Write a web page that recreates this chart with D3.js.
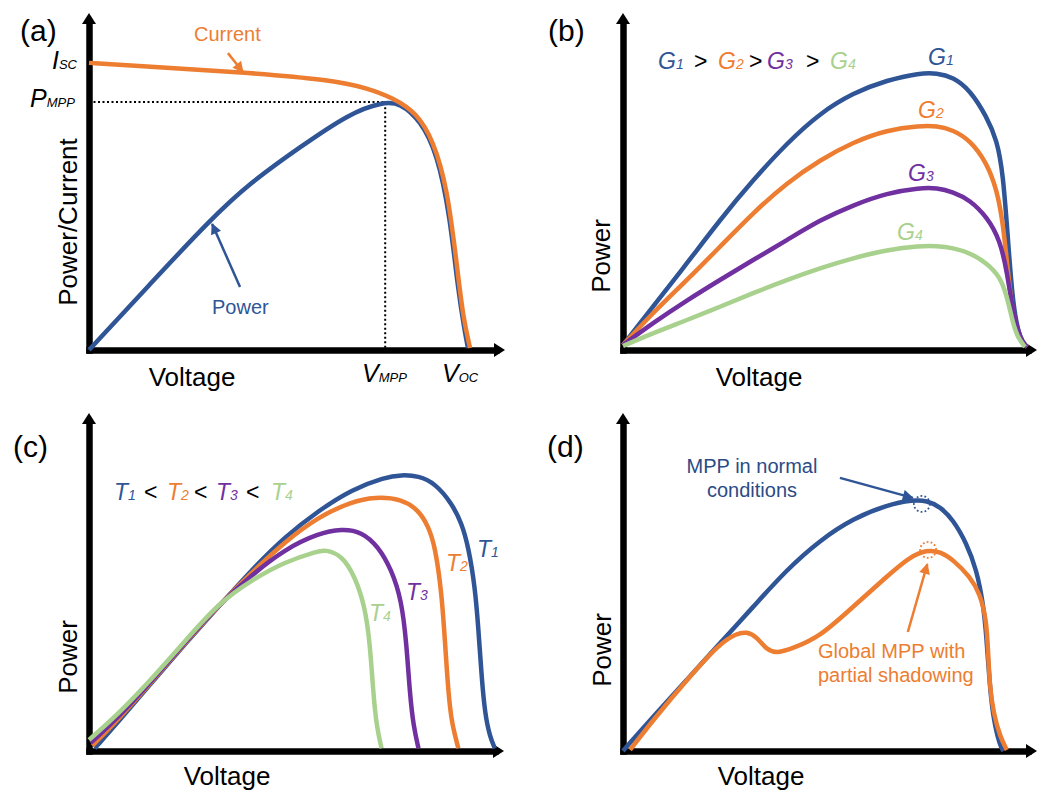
<!DOCTYPE html>
<html>
<head>
<meta charset="utf-8">
<script src="https://cdn.jsdelivr.net/npm/d3@7"></script>
<style>
  body { margin: 0; background: #fff; }
  svg text { font-family: "Liberation Sans", Arial, sans-serif; }
</style>
</head>
<body>
<svg id="chart" width="1045" height="794"></svg>
<script>
// all curves are [voltage, power] with both axes normalised to the arrow length (0..1)

// (a) I-V and P-V curve
var currentA = [[0,0.852],[0.147,0.840],[0.363,0.825],[0.587,0.801],[0.668,0.777],[0.731,0.748],[0.788,0.703],[0.827,0.623],[0.861,0.484],[0.885,0.246],[0.899,0.098],[0.916,0.006]];
var powerA = [[0,0],[0.147,0.196],[0.291,0.386],[0.387,0.496],[0.507,0.602],[0.627,0.703],[0.707,0.736],[0.748,0.733],[0.796,0.682],[0.837,0.585],[0.868,0.395],[0.887,0.178],[0.904,0.050],[0.911,0.006]];
var vMppA = 0.712, pMppA = 0.736;

// (b) irradiance G1 > G2 > G3 > G4
var g1B = [[0,0.015],[0.072,0.128],[0.155,0.258],[0.234,0.386],[0.314,0.504],[0.396,0.614],[0.476,0.703],[0.556,0.763],[0.638,0.801],[0.717,0.822],[0.758,0.822],[0.797,0.810],[0.838,0.772],[0.879,0.691],[0.903,0.623],[0.918,0.525],[0.930,0.326],[0.942,0.128],[0.959,0.030],[0.976,0.009]];
var g2B = [[0,0.015],[0.072,0.110],[0.155,0.208],[0.234,0.306],[0.314,0.407],[0.396,0.496],[0.476,0.564],[0.556,0.617],[0.638,0.653],[0.717,0.665],[0.758,0.665],[0.797,0.653],[0.838,0.623],[0.879,0.555],[0.903,0.475],[0.918,0.377],[0.930,0.228],[0.942,0.098],[0.959,0.030],[0.976,0.009]];
var g3B = [[0,0.015],[0.072,0.080],[0.155,0.148],[0.234,0.208],[0.314,0.267],[0.396,0.326],[0.476,0.386],[0.556,0.430],[0.638,0.466],[0.717,0.481],[0.758,0.481],[0.797,0.469],[0.838,0.445],[0.879,0.395],[0.911,0.326],[0.928,0.228],[0.940,0.128],[0.959,0.030],[0.976,0.009]];
var g4B = [[0,0.012],[0.072,0.050],[0.155,0.089],[0.234,0.128],[0.314,0.169],[0.396,0.208],[0.476,0.243],[0.556,0.273],[0.638,0.297],[0.717,0.309],[0.758,0.309],[0.797,0.303],[0.838,0.288],[0.879,0.258],[0.911,0.217],[0.928,0.157],[0.940,0.089],[0.952,0.039],[0.971,0.009]];

// (c) temperature T1 < T2 < T3 < T4
var t1C = [[0.014,0.008],[0.071,0.087],[0.151,0.202],[0.231,0.316],[0.312,0.427],[0.392,0.536],[0.472,0.634],[0.553,0.711],[0.633,0.774],[0.713,0.810],[0.753,0.817],[0.794,0.814],[0.834,0.792],[0.874,0.733],[0.898,0.674],[0.914,0.605],[0.930,0.486],[0.938,0.368],[0.946,0.220],[0.954,0.111],[0.966,0.042],[0.978,0.008]];
var t2C = [[0.008,0.016],[0.071,0.094],[0.151,0.205],[0.231,0.319],[0.312,0.430],[0.392,0.528],[0.472,0.619],[0.553,0.693],[0.633,0.738],[0.689,0.752],[0.753,0.746],[0.794,0.713],[0.818,0.664],[0.834,0.605],[0.850,0.466],[0.858,0.319],[0.866,0.171],[0.874,0.082],[0.890,0.008]];
var t3C = [[0.004,0.024],[0.071,0.100],[0.151,0.208],[0.231,0.321],[0.312,0.432],[0.392,0.521],[0.472,0.597],[0.553,0.644],[0.609,0.657],[0.657,0.649],[0.697,0.605],[0.729,0.536],[0.753,0.447],[0.765,0.319],[0.773,0.171],[0.782,0.072],[0.794,0.008]];
var t4C = [[0,0.033],[0.071,0.110],[0.151,0.213],[0.231,0.325],[0.312,0.437],[0.392,0.506],[0.472,0.560],[0.553,0.592],[0.569,0.595],[0.609,0.580],[0.641,0.516],[0.665,0.427],[0.677,0.319],[0.685,0.171],[0.693,0.072],[0.705,0.008]];

// (d) normal vs partial shadowing
var normalD = [[0,0],[0.009,0.013],[0.073,0.102],[0.154,0.210],[0.234,0.319],[0.315,0.427],[0.395,0.536],[0.476,0.624],[0.556,0.688],[0.637,0.728],[0.701,0.743],[0.734,0.741],[0.766,0.723],[0.798,0.683],[0.830,0.614],[0.854,0.536],[0.870,0.437],[0.878,0.338],[0.886,0.190],[0.895,0.092],[0.911,0.013],[0.919,0]];
var shadedD = [[0.017,0.003],[0.073,0.092],[0.154,0.210],[0.234,0.319],[0.275,0.348],[0.299,0.353],[0.323,0.338],[0.347,0.299],[0.371,0.289],[0.411,0.304],[0.476,0.338],[0.556,0.427],[0.637,0.516],[0.693,0.575],[0.734,0.595],[0.766,0.590],[0.798,0.565],[0.838,0.516],[0.862,0.466],[0.878,0.388],[0.882,0.289],[0.886,0.190],[0.895,0.111],[0.911,0.042],[0.927,0.003]];
var mppNormalD = [0.722, 0.731];
var mppShadedD = [0.737, 0.595];

// legends
var legendB = [["G","1"],[">",""],["G","2"],[">",""],["G","3"],[">",""],["G","4"]];
var legendC = [["T","1"],["<",""],["T","2"],["<",""],["T","3"],["<",""],["T","4"]];

var BLUE = "#2F5597", ORANGE = "#ED7D31", PURPLE = "#7030A0", GREEN = "#A9D18E";
var seriesColors = [BLUE, ORANGE, PURPLE, GREEN];

var svg = d3.select("#chart");

// arrow markers for the annotations
var defs = svg.append("defs");
[["arrowBlue", BLUE], ["arrowOrange", ORANGE]].forEach(function(m) {
    defs.append("marker")
        .attr("id", m[0])
        .attr("viewBox", "0 0 10 10")
        .attr("refX", 9).attr("refY", 5)
        .attr("markerWidth", 12).attr("markerHeight", 11)
        .attr("markerUnits", "userSpaceOnUse")
        .attr("orient", "auto")
        .append("path").attr("d", "M0,0L10,5L0,10z").attr("fill", m[1]);
});

// make a panel: origin (x0,y0), arrow tips at x1 and y1
function makePanel(x0, x1, y0, y1) {
    var g = svg.append("g");
    var x = d3.scaleLinear().domain([0, 1]).range([x0, x1]);
    var y = d3.scaleLinear().domain([0, 1]).range([y0, y1]);
    var ax = d3.scaleLinear().range([x0, x1 - 9]);
    var ay = d3.scaleLinear().range([y0, y1 + 9]);

    g.append("g")
        .attr("transform", "translate(0," + y0 + ")")
        .call(d3.axisBottom(ax).tickValues([]).tickSizeOuter(0))
        .select(".domain").attr("stroke", "#000").attr("stroke-width", 6.5).attr("stroke-linecap", "square");
    g.append("g")
        .attr("transform", "translate(" + x0 + ",0)")
        .call(d3.axisLeft(ay).tickValues([]).tickSizeOuter(0))
        .select(".domain").attr("stroke", "#000").attr("stroke-width", 6.5).attr("stroke-linecap", "square");

    // arrow heads
    g.append("path").attr("fill", "#000")
        .attr("d", "M" + x(1) + "," + y0 + "L" + (x(1) - 11) + "," + (y0 - 7) + "L" + (x(1) - 11) + "," + (y0 + 7) + "Z");
    g.append("path").attr("fill", "#000")
        .attr("d", "M" + x0 + "," + y(1) + "L" + (x0 - 7) + "," + (y(1) + 11) + "L" + (x0 + 7) + "," + (y(1) + 11) + "Z");

    var line = d3.line()
        .curve(d3.curveBasis)
        .x(function(d) { return x(d[0]); })
        .y(function(d) { return y(d[1]); });

    return { g: g, x: x, y: y, line: line };
}

function drawCurve(p, data, color) {
    p.g.append("path")
        .attr("d", p.line(data))
        .attr("fill", "none")
        .attr("stroke", color)
        .attr("stroke-width", 4.5)
        .attr("stroke-linejoin", "round");
}

function text(x, y, str, size, color) {
    return svg.append("text").attr("x", x).attr("y", y)
        .attr("font-size", size).attr("fill", color || "#000").text(str);
}

// italic symbol with a smaller italic subscript, e.g. I_SC
function symbol(x, y, main, sub, size, subSize, color) {
    var t = svg.append("text").attr("x", x).attr("y", y)
        .attr("font-size", size).attr("font-style", "italic").attr("fill", color || "#000");
    t.append("tspan").text(main);
    t.append("tspan").attr("font-size", subSize).text(sub);
    return t;
}

function axisTitle(x, y, str, rotate) {
    svg.append("text")
        .attr("transform", "translate(" + x + "," + y + ")" + (rotate ? " rotate(-90)" : ""))
        .attr("text-anchor", "middle")
        .attr("font-size", 26)
        .text(str);
}

function legendRow(items, xs, y, colors) {
    var ci = 0;
    items.forEach(function(it, i) {
        if (it[1] === "") {
            text(xs[i], y, it[0], 23, "#000");
        } else {
            symbol(xs[i], y, it[0], it[1], 23, 14, colors[ci++]);
        }
    });
}

function annotate(p, from, to, marker, color) {
    p.g.append("line")
        .attr("x1", p.x(from[0])).attr("y1", p.y(from[1]))
        .attr("x2", p.x(to[0])).attr("y2", p.y(to[1]))
        .attr("stroke", color).attr("stroke-width", 2.5)
        .attr("marker-end", "url(#" + marker + ")");
}

// ---------- (a)
var pa = makePanel(89, 505, 350, 13);
pa.g.append("path")
    .attr("d", "M" + pa.x(0) + "," + pa.y(pMppA) + "H" + pa.x(vMppA) + "V" + pa.y(0))
    .attr("fill", "none").attr("stroke", "#000").attr("stroke-width", 2).attr("stroke-dasharray", "2,2.5");
drawCurve(pa, powerA, BLUE);
drawCurve(pa, currentA, ORANGE);
annotate(pa, [0.334, 0.881], [0.370, 0.825], "arrowOrange", ORANGE);
annotate(pa, [0.363, 0.187], [0.296, 0.374], "arrowBlue", BLUE);
text(194, 41, "Current", 20, ORANGE);
text(212, 314, "Power", 20, BLUE);
symbol(52, 69, "I", "SC", 25, 13);
symbol(30, 107, "P", "MPP", 25, 13);
symbol(362, 382, "V", "MPP", 25, 13);
symbol(442, 382, "V", "OC", 25, 13);
text(20, 41, "(a)", 30);
axisTitle(77, 222, "Power/Current", true);
axisTitle(192, 386, "Voltage", false);

// ---------- (b)
var pb = makePanel(623, 1037, 350, 13);
[g1B, g2B, g3B, g4B].forEach(function(d, i) { drawCurve(pb, d, seriesColors[i]); });
legendRow(legendB, [658, 694, 718, 749, 767, 806, 830], 69, seriesColors);
var labelB = [[928, 65], [918, 118], [908, 181], [897, 240]];
labelB.forEach(function(l, i) { symbol(l[0], l[1], "G", String(i + 1), 23, 14, seriesColors[i]); });
text(548, 41, "(b)", 30);
axisTitle(610, 256, "Power", true);
axisTitle(759, 386, "Voltage", false);

// ---------- (c)
var pc = makePanel(89, 504, 751, 413);
[t1C, t2C, t3C, t4C].forEach(function(d, i) { drawCurve(pc, d, seriesColors[i]); });
legendRow(legendC, [114, 144, 167, 194, 216, 246, 271], 500, seriesColors);
var labelC = [[477, 557], [446, 571], [406, 600], [369, 621]];
labelC.forEach(function(l, i) { symbol(l[0], l[1], "T", String(i + 1), 23, 14, seriesColors[i]); });
text(13, 457, "(c)", 30);
axisTitle(77, 657, "Power", true);
axisTitle(227, 785, "Voltage", false);

// ---------- (d)
var pd = makePanel(623, 1037, 751, 413);
drawCurve(pd, normalD, BLUE);
drawCurve(pd, shadedD, ORANGE);
[[mppNormalD, BLUE], [mppShadedD, ORANGE]].forEach(function(c) {
    pd.g.append("circle")
        .attr("cx", pd.x(c[0][0])).attr("cy", pd.y(c[0][1])).attr("r", 8)
        .attr("fill", "none").attr("stroke", c[1]).attr("stroke-width", 1.8)
        .attr("stroke-dasharray", "1.8,2.2");
});
annotate(pd, [0.524, 0.808], [0.700, 0.749], "arrowBlue", BLUE);
annotate(pd, [0.688, 0.352], [0.735, 0.553], "arrowOrange", ORANGE);
text(752, 473, "MPP in normal", 20, "#2B4B86").attr("text-anchor", "middle");
text(752, 497, "conditions", 20, "#2B4B86").attr("text-anchor", "middle");
text(818, 658, "Global MPP with", 20, ORANGE);
text(818, 682, "partial shadowing", 20, ORANGE);
text(547, 457, "(d)", 30);
axisTitle(611, 650, "Power", true);
axisTitle(761, 785, "Voltage", false);
</script>
</body>
</html>
